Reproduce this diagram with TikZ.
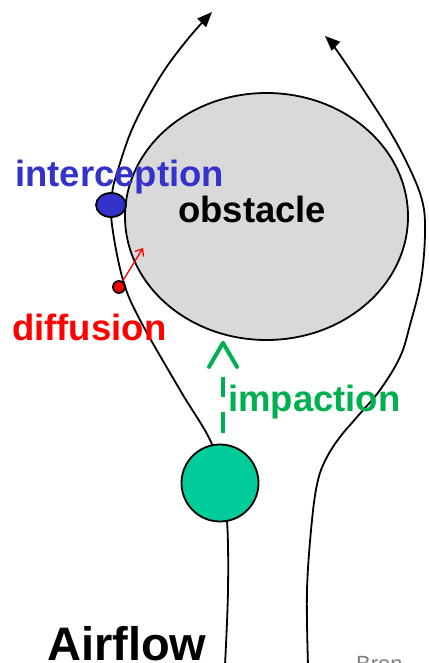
\documentclass[tikz,border=0pt]{standalone}
\usepackage{fontspec}
\setmainfont{Liberation Sans}
\usetikzlibrary{arrows.meta,shapes.geometric,calc}
\definecolor{obsgray}{HTML}{D9D9D9}
\definecolor{intblue}{HTML}{3333CC}
\definecolor{impgreen}{HTML}{00B050}
\definecolor{partgreen}{HTML}{00CC99}
\definecolor{diffred}{HTML}{FF0000}

\begin{document}
\begin{tikzpicture}[x=1pt,y=-1pt,
  stream/.style={line width=1.8pt,-{Triangle[length=15pt,width=12pt]}},
  partcl/.style={circle,draw,line width=1.8pt,inner sep=0pt},
  lbl/.style={font=\fontsize{36.5}{40}\selectfont\bfseries,inner sep=0pt,anchor=base west},
  impact/.style={impgreen,line width=4pt,dash pattern=on 21pt off 15pt on 20pt off 80pt,
    -{Straight Barb[length=24pt,width=28pt,round]}},
  diffarrow/.style={diffred,line width=1.3pt,-{Straight Barb[length=6pt,width=10pt]}}]
\useasboundingbox (0,0) rectangle (428,663);
\node[ellipse,draw,line width=1.8pt,fill=obsgray,minimum width=283pt,minimum height=247pt,inner sep=0pt] (obst) at (266.5,216.5) {};
% streamlines round the obstacle
\draw[stream] plot[smooth,tension=0.6] coordinates {(225,665) (228,590) (227,521) (220,480) (211,442) (180,390) (140,320) (123,280) (112,225) (112,195) (117,173) (133,127) (160,77) (187,40) (212,12)};
\draw[stream] plot[smooth,tension=0.6] coordinates {(308,665) (307,590) (312,520) (318,480) (327,457) (340,437) (357,417) (380,390) (400,357) (410,325) (421,280) (425,233) (422,200) (407,163) (383,120) (340,55) (325,36)};
% particles
\node[partcl,fill=partgreen,minimum size=77pt] (impp) at (220,483) {};
\node[ellipse,draw,line width=1.8pt,fill=intblue,minimum width=30pt,minimum height=24pt,inner sep=0pt] (intp) at (111,205) {};
\node[partcl,fill=diffred,minimum size=12pt] (diffp) at (119,287) {};
\coordinate (imp0) at (223,433);
\coordinate (dtip) at (143,248);
\draw[impact] (imp0) -- (imp0 |- obst.south);
\draw[diffarrow] (diffp) -- (dtip);
% labels
\node[lbl,text=intblue] (intl) at (15,186) {interception};
\node[lbl] (obsl) at (178,222) {obstacle};
\node[lbl,text=diffred] (diffl) at (12,340) {diffusion};
\node[lbl,text=impgreen] (impl) at (228,411) {impaction};
\node[lbl,font=\fontsize{47}{50}\selectfont\bfseries] (airl) at (47,660) {Airflow};
\node[lbl,font=\fontsize{22}{24}\selectfont,text=gray] (srcl) at (356,671) {Bron};
\end{tikzpicture}
\end{document}
